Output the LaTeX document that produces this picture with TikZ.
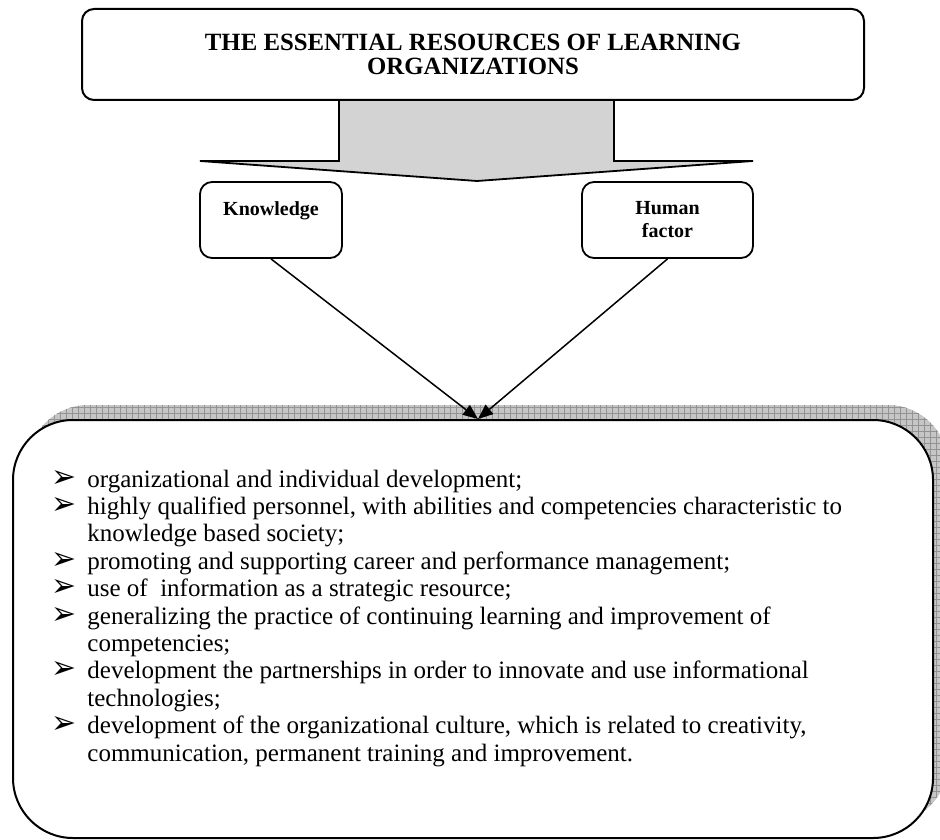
\documentclass[tikz,border=0pt]{standalone}
\usepackage{fontspec}
\setmainfont{Liberation Serif}
\newfontfamily\symfont{DejaVu Sans}
\usetikzlibrary{arrows.meta,patterns,shadows}

\definecolor{arrowgray}{RGB}{211,211,211}
\newcommand{\bul}{\resizebox{12.5pt}{8.5pt}{\symfont ➢}}

\begin{document}
\begin{tikzpicture}[x=0.5pt, y=-0.5pt,
                    every edge/.style={draw, line width=0.75pt},
                    roundbox/.style={draw, line width=0.9pt, rounded corners=6pt, fill=white, align=center},
                    gridshadow/.style={general shadow={shadow xshift=7.5pt, shadow yshift=7.5pt, fill=gray!45},
                                       general shadow={shadow xshift=7.5pt, shadow yshift=7.5pt, pattern=grid, pattern color=gray!85}}]

    % Frame of the picture
    \clip (0,0) rectangle (940,839);

    % Define nodes
    \node[draw, gridshadow, line width=1pt, rounded corners=30pt, fill=white,
          minimum width=460pt, minimum height=209pt] (res) at (473,629) {}; % Features box

    % Broad arrow under the title
    \filldraw[fill=arrowgray, line width=0.9pt] (339,100) -- (339,161) -- (200,161) -- (477,181)
        -- (753,161) -- (614,161) -- (614,100);

    \node[roundbox, line width=1pt, minimum width=391pt, minimum height=45.5pt,
          font=\bfseries\fontsize{12.4}{11.7}\selectfont] (title) at (473,54.5)
          {THE ESSENTIAL RESOURCES OF LEARNING\\ORGANIZATIONS}; % Title
    \node[roundbox, minimum width=71pt, minimum height=38pt,
          font=\bfseries\fontsize{10}{11.5}\selectfont] (know) at (271,220) {Knowledge\\\phantom{x}}; % Left resource
    \node[roundbox, minimum width=85.5pt, minimum height=38pt,
          font=\bfseries\fontsize{10}{11.5}\selectfont] (human) at (667.5,220) {Human\\factor}; % Right resource

    \node[anchor=base west, inner sep=0pt, font=\fontsize{12.5}{13.7}\selectfont] (items) at (51,487)
    {\begin{tabular}[t]{@{}p{18pt}@{}l@{}}
        \bul & organizational and individual development;\\
        \bul & highly qualified personnel, with abilities and competencies characteristic to\\
             & knowledge based society;\\
        \bul & promoting and supporting career and performance management;\\
        \bul & use of \ information as a strategic resource;\\
        \bul & generalizing the practice of continuing learning and improvement of\\
             & competencies;\\
        \bul & development the partnerships in order to innovate and use informational\\
             & technologies;\\
        \bul & development of the organizational culture, which is related to creativity,\\
             & communication, permanent training and improvement.
    \end{tabular}}; % Features

    % Define edges
    \path [-{Triangle[length=7.5pt, width=6pt]}](know.south) edge ([xshift=2.5pt]res.north);
    \path [-{Triangle[length=7.5pt, width=6pt]}](human.south) edge ([xshift=2.5pt]res.north);
\end{tikzpicture}
\end{document}
